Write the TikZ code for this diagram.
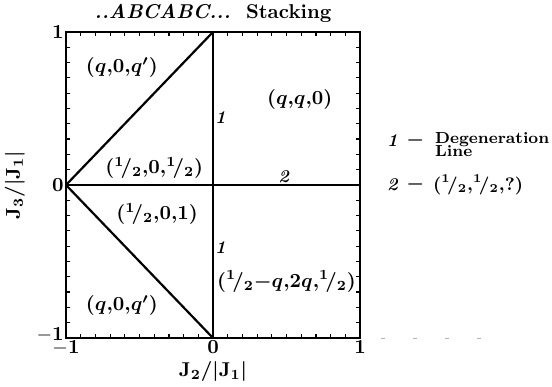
\documentclass[tikz,border=0pt]{standalone}
\usepackage{amsmath,amssymb}
\usepackage{tikz}
\usetikzlibrary{positioning}
\newcommand{\hf}{{}^{1}\!/_{2}}
\newcommand{\cm}{{,}}

\begin{document}
\begin{tikzpicture}[x=73.5pt,y=76.5pt,
  phase/.style={font=\bfseries\boldmath},
  linenum/.style={font=\small\bfseries\itshape,inner sep=1pt},
  ticklbl/.style={font=\bfseries,inner sep=1pt},
  bound/.style={line width=1.1pt}]
  \useasboundingbox (-1.449,-1.320) rectangle (2.306,1.209);
  % frame with inward ticks
  \draw[line width=1pt] (-1,-1) rectangle (1,1);
  \foreach \i in {1,...,19} {
    \pgfmathsetmacro{\t}{-1+\i/10}
    \draw[line width=0.6pt] (\t,-1) -- ++(0,2pt) (\t,1) -- ++(0,-2pt);
    \draw[line width=0.6pt] (-1,\t) -- ++(2pt,0) (1,\t) -- ++(-2pt,0);
  }
  \coordinate (W) at (-1,0);
  \coordinate (N) at (0,1);
  \coordinate (S) at (0,-1);
  \coordinate (E) at (1,0);
  % phase boundaries
  \draw[bound] (W) -- (N);
  \draw[bound] (W) -- (S);
  \draw[bound] (N) -- (S);
  \draw[bound] (W) -- (E);
  % tick labels
  \node[ticklbl,below] (xm) at (-1,-1) {$\mathbf{-1}$};
  \node[ticklbl,below] (xz) at (0,-1) {0};
  \node[ticklbl,below] (xp) at (1,-1) {1};
  \node[ticklbl,left] (yp) at (-1,1) {1};
  \node[ticklbl,left] (yz) at (-1,0) {0};
  \node[ticklbl,left] (ym) at (-1,-0.98) {$\mathbf{-1}$};
  \node[font=\bfseries\boldmath] (xt) at (0,-1.222) {$\mathbf{J_2/|J_1|}$};
  \node[font=\bfseries\boldmath,rotate=90] (yt) at (-1.347,0) {$\mathbf{J_3/|J_1|}$};
  \node[font=\bfseries] (title) at (0,1.124) {\textit{..ABCABC...}\ \ Stacking};
  % phases
  \node[phase] (p1) at (-0.62,0.765) {$(q\cm0\cm q')$};
  \node[phase] (p2) at (-0.40,0.11) {$(\hf\cm0\cm\hf)$};
  \node[phase] (p3) at (-0.38,-0.19) {$(\hf\cm0\cm1)$};
  \node[phase] (p4) at (-0.62,-0.79) {$(q\cm0\cm q')$};
  \node[phase] (p5) at (0.59,0.56) {$(q\cm q\cm0)$};
  \node[phase] (p6) at (0.50,-0.63) {$(\hf{-}q\cm2q\cm\hf)$};
  \node[linenum] (n1a) at (0.05,0.44) {1};
  \node[linenum] (n1b) at (0.05,-0.41) {1};
  \node[linenum,above] (n2) at (0.48,0) {2};
  % key
  \node[linenum] (k1) at (1.22,0.29) {1};
  \node[font=\bfseries\boldmath,right=3pt of k1,inner sep=0pt] (d1) {$-$};
  \node[font=\footnotesize\bfseries,align=left,anchor=north west,inner sep=0pt] (t1)
    at ([xshift=5pt,yshift=4pt]d1.east) {Degeneration\\[-3pt]Line};
  \node[linenum] (k2) at (1.22,0) {2};
  \node[font=\bfseries\boldmath,right=3pt of k2,inner sep=0pt] (d2) {$-$};
  \node[font=\small\bfseries\boldmath,right=4pt of d2,inner sep=0pt] (t2) {$(\hf\cm\hf\cm?)$};
  % faint scan trace
  \coordinate (r1) at (1.14,-1);
  \coordinate (r2) at (1.92,-1);
  \draw[gray!60,line width=0.4pt,dash pattern=on 2pt off 14pt] (r1) -- (r2);
\end{tikzpicture}
\end{document}
